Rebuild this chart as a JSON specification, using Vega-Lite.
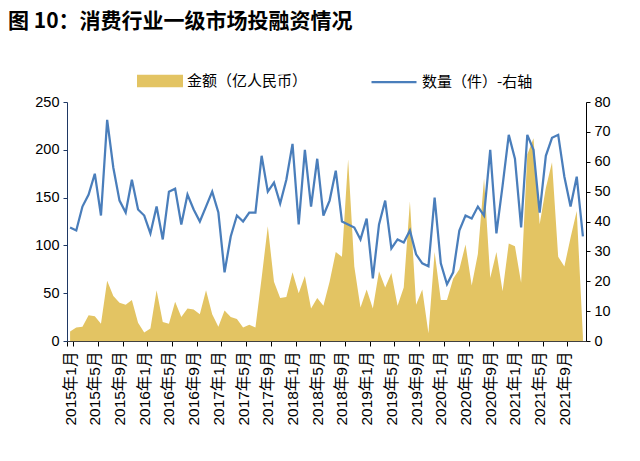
{
  "$schema": "https://vega.github.io/schema/vega-lite/v6.json",
  "autosize": {"type": "none"},
  "width": 519,
  "height": 239,
  "padding": {"left": 67, "top": 102, "right": 54, "bottom": 120},
  "title": {
    "text": "图 10：消费行业一级市场投融资情况",
    "anchor": "start",
    "frame": "group",
    "dx": -59,
    "offset": 26,
    "font": "Noto Sans CJK SC",
    "fontSize": 21,
    "fontWeight": "bold",
    "color": "black"
  },
  "config": {
    "view": {"stroke": null},
    "axis": {"grid": false, "labelFont": "Liberation Sans, Noto Sans CJK SC", "labelColor": "black", "title": null},
    "legend": {"padding": 0, "labelFont": "Noto Sans CJK SC", "labelFontSize": 15, "labelColor": "black"}
  },
  "data": {
    "values": [
      {"month": "2015年1月", "amount": 10, "count": 38},
      {"month": "2015年2月", "amount": 14, "count": 37},
      {"month": "2015年3月", "amount": 15, "count": 45},
      {"month": "2015年4月", "amount": 27, "count": 49},
      {"month": "2015年5月", "amount": 26, "count": 56},
      {"month": "2015年6月", "amount": 18, "count": 42},
      {"month": "2015年7月", "amount": 63, "count": 74},
      {"month": "2015年8月", "amount": 47, "count": 58},
      {"month": "2015年9月", "amount": 40, "count": 47},
      {"month": "2015年10月", "amount": 38, "count": 43},
      {"month": "2015年11月", "amount": 43, "count": 54},
      {"month": "2015年12月", "amount": 19, "count": 44},
      {"month": "2016年1月", "amount": 9, "count": 42},
      {"month": "2016年2月", "amount": 13, "count": 36},
      {"month": "2016年3月", "amount": 53, "count": 45},
      {"month": "2016年4月", "amount": 20, "count": 34},
      {"month": "2016年5月", "amount": 18, "count": 50},
      {"month": "2016年6月", "amount": 41, "count": 51},
      {"month": "2016年7月", "amount": 25, "count": 39},
      {"month": "2016年8月", "amount": 34, "count": 49},
      {"month": "2016年9月", "amount": 33, "count": 44},
      {"month": "2016年10月", "amount": 28, "count": 40},
      {"month": "2016年11月", "amount": 53, "count": 45},
      {"month": "2016年12月", "amount": 28, "count": 50},
      {"month": "2017年1月", "amount": 15, "count": 43},
      {"month": "2017年2月", "amount": 32, "count": 23},
      {"month": "2017年3月", "amount": 25, "count": 35},
      {"month": "2017年4月", "amount": 23, "count": 42},
      {"month": "2017年5月", "amount": 14, "count": 40},
      {"month": "2017年6月", "amount": 17, "count": 43},
      {"month": "2017年7月", "amount": 14, "count": 43},
      {"month": "2017年8月", "amount": 66, "count": 62},
      {"month": "2017年9月", "amount": 120, "count": 50},
      {"month": "2017年10月", "amount": 62, "count": 53},
      {"month": "2017年11月", "amount": 45, "count": 46},
      {"month": "2017年12月", "amount": 46, "count": 54},
      {"month": "2018年1月", "amount": 72, "count": 66},
      {"month": "2018年2月", "amount": 50, "count": 39},
      {"month": "2018年3月", "amount": 68, "count": 64},
      {"month": "2018年4月", "amount": 34, "count": 45},
      {"month": "2018年5月", "amount": 45, "count": 61},
      {"month": "2018年6月", "amount": 37, "count": 42},
      {"month": "2018年7月", "amount": 62, "count": 47},
      {"month": "2018年8月", "amount": 93, "count": 57},
      {"month": "2018年9月", "amount": 88, "count": 40},
      {"month": "2018年10月", "amount": 190, "count": 39},
      {"month": "2018年11月", "amount": 78, "count": 38},
      {"month": "2018年12月", "amount": 35, "count": 34},
      {"month": "2019年1月", "amount": 54, "count": 41},
      {"month": "2019年2月", "amount": 34, "count": 21},
      {"month": "2019年3月", "amount": 73, "count": 39},
      {"month": "2019年4月", "amount": 56, "count": 47},
      {"month": "2019年5月", "amount": 71, "count": 31},
      {"month": "2019年6月", "amount": 37, "count": 34},
      {"month": "2019年7月", "amount": 56, "count": 33},
      {"month": "2019年8月", "amount": 146, "count": 37},
      {"month": "2019年9月", "amount": 38, "count": 29},
      {"month": "2019年10月", "amount": 54, "count": 26},
      {"month": "2019年11月", "amount": 8, "count": 25},
      {"month": "2019年12月", "amount": 93, "count": 48},
      {"month": "2020年1月", "amount": 43, "count": 26},
      {"month": "2020年2月", "amount": 43, "count": 19},
      {"month": "2020年3月", "amount": 65, "count": 23},
      {"month": "2020年4月", "amount": 75, "count": 37},
      {"month": "2020年5月", "amount": 101, "count": 42},
      {"month": "2020年6月", "amount": 58, "count": 41},
      {"month": "2020年7月", "amount": 91, "count": 45},
      {"month": "2020年8月", "amount": 170, "count": 42},
      {"month": "2020年9月", "amount": 66, "count": 64},
      {"month": "2020年10月", "amount": 93, "count": 36},
      {"month": "2020年11月", "amount": 52, "count": 52},
      {"month": "2020年12月", "amount": 102, "count": 69},
      {"month": "2021年1月", "amount": 99, "count": 61},
      {"month": "2021年2月", "amount": 61, "count": 38},
      {"month": "2021年3月", "amount": 195, "count": 69},
      {"month": "2021年4月", "amount": 212, "count": 64},
      {"month": "2021年5月", "amount": 122, "count": 43},
      {"month": "2021年6月", "amount": 160, "count": 62},
      {"month": "2021年7月", "amount": 187, "count": 68},
      {"month": "2021年8月", "amount": 88, "count": 69},
      {"month": "2021年9月", "amount": 78, "count": 55},
      {"month": "2021年10月", "amount": 108, "count": 45},
      {"month": "2021年11月", "amount": 136, "count": 55},
      {"month": "2021年12月", "amount": 5, "count": 35}
    ]
  },
  "encoding": {
    "x": {
      "field": "month",
      "type": "ordinal",
      "sort": null,
      "bandPosition": 0.5,
      "scale": {"type": "band", "paddingInner": 0, "paddingOuter": 0},
      "axis": {
        "values": ["2015年1月", "2015年5月", "2015年9月", "2016年1月", "2016年5月", "2016年9月", "2017年1月", "2017年5月", "2017年9月", "2018年1月", "2018年5月", "2018年9月", "2019年1月", "2019年5月", "2019年9月", "2020年1月", "2020年5月", "2020年9月", "2021年1月", "2021年5月", "2021年9月"],
        "tickBand": "extent",
        "labelAngle": 270,
        "labelAlign": "right",
        "labelBaseline": "middle",
        "labelFontSize": 15.5,
        "labelPadding": 5,
        "tickSize": 5,
        "tickColor": "black",
        "domainColor": "#404040"
      }
    }
  },
  "layer": [
    {
      "mark": {"type": "area", "opacity": 1},
      "encoding": {
        "y": {
          "field": "amount",
          "type": "quantitative",
          "scale": {"domain": [0, 250], "nice": false},
          "axis": {
            "values": [0, 50, 100, 150, 200, 250],
            "labelFontSize": 14.5,
            "labelPadding": 4,
            "tickSize": 4,
            "domainColor": "#1F3864",
            "tickColor": "#1F3864"
          }
        },
        "fill": {
          "datum": "金额（亿人民币）",
          "type": "nominal",
          "scale": {"range": ["#E3C463"]},
          "legend": {
            "title": null,
            "orient": "none",
            "legendX": 70,
            "legendY": -44,
            "symbolType": "M-1,-0.27H1V0.27H-1Z",
            "symbolSize": 2116,
            "symbolStrokeWidth": 0,
            "labelOffset": 4
          }
        }
      }
    },
    {
      "mark": {"type": "line", "strokeWidth": 2.25},
      "encoding": {
        "y": {
          "field": "count",
          "type": "quantitative",
          "scale": {"domain": [0, 80], "nice": false},
          "axis": {
            "orient": "right",
            "values": [0, 10, 20, 30, 40, 50, 60, 70, 80],
            "labelFontSize": 14.5,
            "labelPadding": 4,
            "tickSize": 4,
            "domainColor": "black",
            "tickColor": "black"
          }
        },
        "stroke": {
          "datum": "数量（件）-右轴",
          "type": "nominal",
          "scale": {"range": ["#4A7EBB"]},
          "legend": {
            "title": null,
            "orient": "none",
            "legendX": 303,
            "legendY": -44,
            "symbolType": "stroke",
            "symbolSize": 2025,
            "symbolStrokeWidth": 2.25,
            "labelOffset": 4
          }
        }
      }
    }
  ],
  "resolve": {"scale": {"y": "independent"}}
}
